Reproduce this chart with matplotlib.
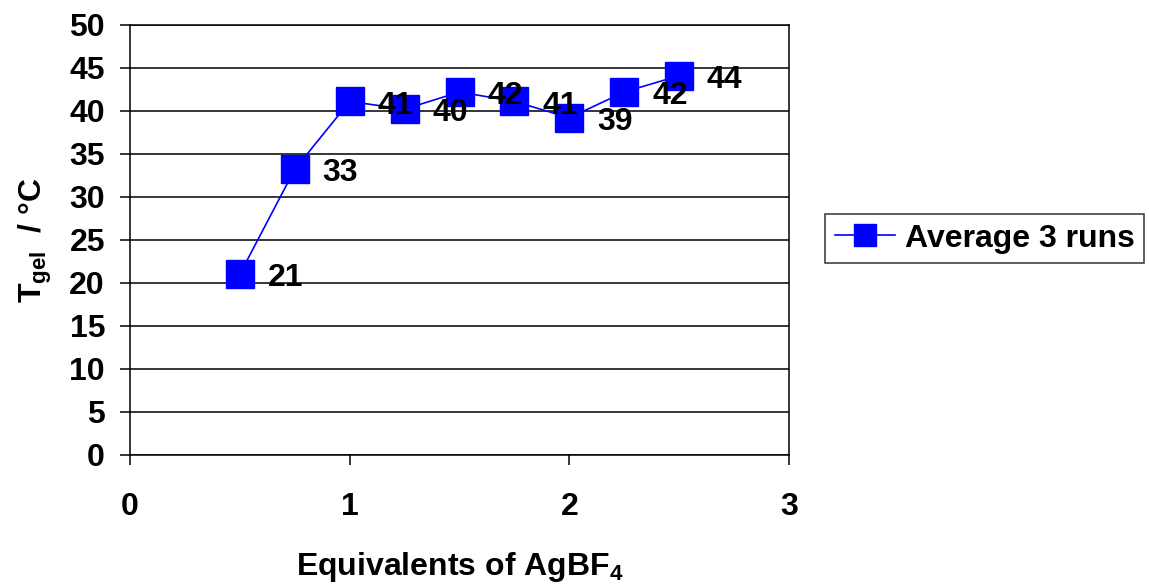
import matplotlib
matplotlib.use("Agg")
import matplotlib.pyplot as plt

equivalents = [0.5, 0.75, 1.0, 1.25, 1.5, 1.75, 2.0, 2.25, 2.5]
t_gel = [21.0, 33.2, 41.1, 40.2, 42.2, 41.1, 39.2, 42.2, 44.1]
point_labels = ["21", "33", "41", "40", "42", "41", "39", "42", "44"]
x_ticks = [0, 1, 2, 3]
y_ticks = list(range(0, 55, 5))
series_name = "Average 3 runs"

plt.rcParams["font.family"] = ["Liberation Sans", "DejaVu Sans"]
plt.rcParams["font.weight"] = "bold"
plt.rcParams["mathtext.fontset"] = "custom"
plt.rcParams["mathtext.rm"] = "Liberation Sans:bold"
plt.rcParams["mathtext.it"] = "Liberation Sans:bold"
plt.rcParams["mathtext.bf"] = "Liberation Sans:bold"

FS = 23

fig = plt.figure(figsize=(11.49, 5.88), dpi=100)
ax = fig.add_axes([130 / 1149, (588 - 454.5) / 588, 659 / 1149, 429.5 / 588])

ax.plot(equivalents, t_gel, color="#0000ff", linewidth=1.2, marker="s",
        markersize=20, markerfacecolor="#0000ff", markeredgecolor="#0000ff",
        label=series_name, zorder=3)

for x, y, lab in zip(equivalents, t_gel, point_labels):
    ax.annotate(lab, (x, y), xytext=(20, -3), textcoords="offset points",
                ha="left", va="center", fontsize=FS, fontweight="bold",
                color="black", zorder=4)

ax.set_xlim(0, 3)
ax.set_ylim(0, 50)
ax.set_xticks(x_ticks)
ax.set_yticks(y_ticks)
ax.yaxis.grid(True, color="black", linewidth=1.1)
ax.set_axisbelow(True)
for side in ["left", "bottom", "right", "top"]:
    ax.spines[side].set_linewidth(1.1)
    ax.spines[side].set_color("black")

ax.tick_params(axis="x", direction="out", length=7, width=1.1, pad=20, labelsize=FS)
ax.tick_params(axis="y", direction="out", length=7, width=1.1, pad=11, labelsize=FS)
for lab in ax.get_xticklabels() + ax.get_yticklabels():
    lab.set_fontweight("bold")

ax.set_xlabel(r"Equivalents of AgBF$_4$", fontsize=FS, fontweight="bold", labelpad=20)
ax.set_ylabel(r"T$_{gel}$  / °C", fontsize=FS, fontweight="bold", labelpad=11)

leg = fig.legend(loc="upper left", bbox_to_anchor=(825 / 1149, 1 - 214 / 588),
                 frameon=True, fancybox=False, fontsize=FS, handlelength=1.9,
                 borderpad=0.3, handletextpad=0.3, borderaxespad=0)
leg.get_frame().set_edgecolor("black")
leg.get_frame().set_linewidth(1.1)
for t in leg.get_texts():
    t.set_fontweight("bold")
for h in leg.legend_handles:
    h.set_markersize(16)

fig.savefig("out.png", dpi=100)
